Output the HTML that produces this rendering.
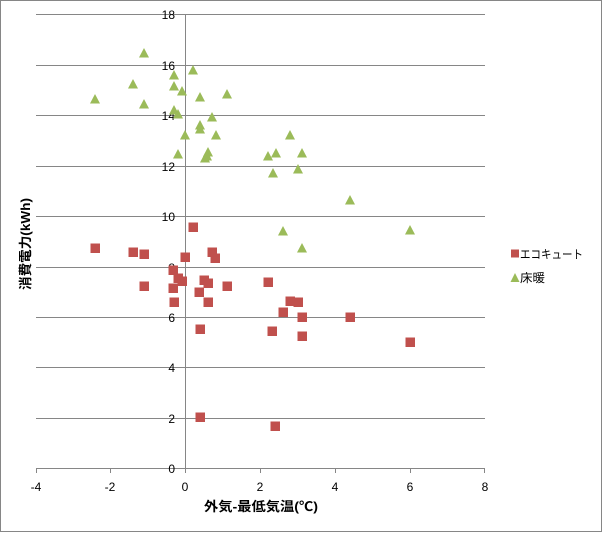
<!DOCTYPE html>
<html><head><meta charset="utf-8"><style>
html,body{margin:0;padding:0;background:#fff;}
svg{display:block;}
text{font-family:"Liberation Sans","Noto Sans CJK JP",sans-serif;fill:#000;}
</style></head><body>
<svg width="603" height="533" viewBox="0 0 603 533" xmlns="http://www.w3.org/2000/svg">
<rect x="0" y="0" width="603" height="533" fill="#fff"/>
<rect x="0.5" y="0.5" width="601" height="531" fill="none" stroke="#868686" stroke-width="1"/>
<g stroke="#868686" stroke-width="1" shape-rendering="crispEdges">
<line x1="36" y1="14.5" x2="485" y2="14.5"/>
<line x1="36" y1="65.5" x2="485" y2="65.5"/>
<line x1="36" y1="115.5" x2="485" y2="115.5"/>
<line x1="36" y1="166.5" x2="485" y2="166.5"/>
<line x1="36" y1="216.5" x2="485" y2="216.5"/>
<line x1="36" y1="267.5" x2="485" y2="267.5"/>
<line x1="36" y1="317.5" x2="485" y2="317.5"/>
<line x1="36" y1="367.5" x2="485" y2="367.5"/>
<line x1="36" y1="418.5" x2="485" y2="418.5"/>
<line x1="36" y1="468.5" x2="485" y2="468.5"/>
<line x1="185.5" y1="14" x2="185.5" y2="469"/>
<line x1="36.5" y1="468" x2="36.5" y2="473"/>
<line x1="110.5" y1="468" x2="110.5" y2="473"/>
<line x1="185.5" y1="468" x2="185.5" y2="473"/>
<line x1="260.5" y1="468" x2="260.5" y2="473"/>
<line x1="335.5" y1="468" x2="335.5" y2="473"/>
<line x1="410.5" y1="468" x2="410.5" y2="473"/>
<line x1="484.5" y1="468" x2="484.5" y2="473"/>
</g>
<g font-size="12" text-anchor="end">
<text x="175" y="19">18</text>
<text x="175" y="70">16</text>
<text x="175" y="120">14</text>
<text x="175" y="171">12</text>
<text x="175" y="221">10</text>
<text x="175" y="272">8</text>
<text x="175" y="322">6</text>
<text x="175" y="372">4</text>
<text x="175" y="423">2</text>
<text x="175" y="473">0</text>
</g>
<g font-size="12" text-anchor="middle">
<text x="36" y="491">-4</text>
<text x="110" y="491">-2</text>
<text x="185" y="491">0</text>
<text x="260" y="491">2</text>
<text x="335" y="491">4</text>
<text x="410" y="491">6</text>
<text x="485" y="491">8</text>
</g>
<text x="204" y="511" font-size="13" font-weight="bold" textLength="114" lengthAdjust="spacingAndGlyphs">外気-最低気温(℃)</text>
<text transform="translate(30,244) rotate(-90)" text-anchor="middle" font-size="13" font-weight="bold" textLength="92" lengthAdjust="spacingAndGlyphs">消費電力(kWh)</text>
<g fill="#9BBB59">
<path d="M144 48 L139 57.5 L149 57.5Z"/>
<path d="M95 94 L90 103.5 L100 103.5Z"/>
<path d="M133 79 L128 88.5 L138 88.5Z"/>
<path d="M144 99 L139 108.5 L149 108.5Z"/>
<path d="M174 70 L169 79.5 L179 79.5Z"/>
<path d="M174 81 L169 90.5 L179 90.5Z"/>
<path d="M182 86 L177 95.5 L187 95.5Z"/>
<path d="M174 105 L169 114.5 L179 114.5Z"/>
<path d="M178 109 L173 118.5 L183 118.5Z"/>
<path d="M185 130 L180 139.5 L190 139.5Z"/>
<path d="M178 149 L173 158.5 L183 158.5Z"/>
<path d="M193 65 L188 74.5 L198 74.5Z"/>
<path d="M200 92 L195 101.5 L205 101.5Z"/>
<path d="M227 89 L222 98.5 L232 98.5Z"/>
<path d="M212 112 L207 121.5 L217 121.5Z"/>
<path d="M200 120 L195 129.5 L205 129.5Z"/>
<path d="M200 124 L195 133.5 L205 133.5Z"/>
<path d="M216 130 L211 139.5 L221 139.5Z"/>
<path d="M208 147 L203 156.5 L213 156.5Z"/>
<path d="M207 151 L202 160.5 L212 160.5Z"/>
<path d="M205 153 L200 162.5 L210 162.5Z"/>
<path d="M268 151 L263 160.5 L273 160.5Z"/>
<path d="M276 148 L271 157.5 L281 157.5Z"/>
<path d="M290 130 L285 139.5 L295 139.5Z"/>
<path d="M302 148 L297 157.5 L307 157.5Z"/>
<path d="M273 168 L268 177.5 L278 177.5Z"/>
<path d="M298 164 L293 173.5 L303 173.5Z"/>
<path d="M350 195 L345 204.5 L355 204.5Z"/>
<path d="M283 226 L278 235.5 L288 235.5Z"/>
<path d="M302 243 L297 252.5 L307 252.5Z"/>
<path d="M410 225 L405 234.5 L415 234.5Z"/>
</g>
<g fill="#C0504D">
<rect x="90.5" y="243.5" width="9.5" height="9.5"/>
<rect x="128.5" y="247.5" width="9.5" height="9.5"/>
<rect x="139.5" y="249.5" width="9.5" height="9.5"/>
<rect x="139.5" y="281.5" width="9.5" height="9.5"/>
<rect x="168.5" y="265.5" width="9.5" height="9.5"/>
<rect x="173.5" y="273.5" width="9.5" height="9.5"/>
<rect x="177.5" y="276.5" width="9.5" height="9.5"/>
<rect x="168.5" y="283.5" width="9.5" height="9.5"/>
<rect x="169.5" y="297.5" width="9.5" height="9.5"/>
<rect x="180.5" y="252.5" width="9.5" height="9.5"/>
<rect x="188.5" y="222.5" width="9.5" height="9.5"/>
<rect x="207.5" y="247.5" width="9.5" height="9.5"/>
<rect x="210.5" y="253.5" width="9.5" height="9.5"/>
<rect x="199.5" y="275.5" width="9.5" height="9.5"/>
<rect x="203.5" y="278.5" width="9.5" height="9.5"/>
<rect x="194.5" y="287.5" width="9.5" height="9.5"/>
<rect x="222.5" y="281.5" width="9.5" height="9.5"/>
<rect x="203.5" y="297.5" width="9.5" height="9.5"/>
<rect x="195.5" y="324.5" width="9.5" height="9.5"/>
<rect x="263.5" y="277.5" width="9.5" height="9.5"/>
<rect x="285.5" y="296.5" width="9.5" height="9.5"/>
<rect x="293.5" y="297.5" width="9.5" height="9.5"/>
<rect x="278.5" y="307.5" width="9.5" height="9.5"/>
<rect x="297.5" y="312.5" width="9.5" height="9.5"/>
<rect x="345.5" y="312.5" width="9.5" height="9.5"/>
<rect x="267.5" y="326.5" width="9.5" height="9.5"/>
<rect x="297.5" y="331.5" width="9.5" height="9.5"/>
<rect x="405.5" y="337.5" width="9.5" height="9.5"/>
<rect x="195.5" y="412.5" width="9.5" height="9.5"/>
<rect x="270.5" y="421.5" width="9.5" height="9.5"/>
</g>
<rect x="511" y="249.5" width="8" height="8" fill="#C0504D"/>
<path d="M515 273 L510.5 282 L519.5 282Z" fill="#9BBB59"/>
<text x="520" y="258.5" font-size="12" textLength="63" lengthAdjust="spacingAndGlyphs">エコキュート</text>
<text x="520" y="282" font-size="12" textLength="25" lengthAdjust="spacingAndGlyphs">床暖</text>
</svg>
</body></html>
